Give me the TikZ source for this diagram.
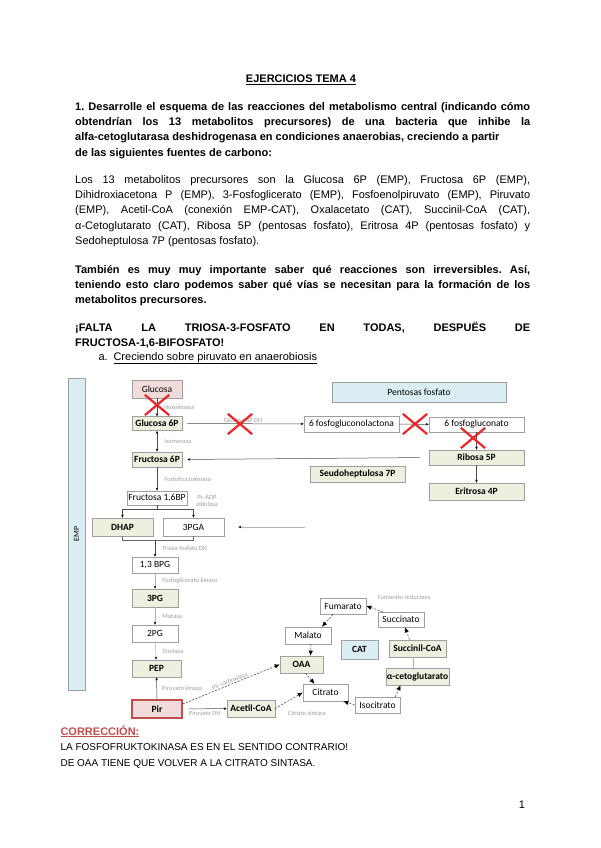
\documentclass[tikz,border=0pt]{standalone}
\usepackage{fontspec}
\setmainfont{Liberation Sans}
\newfontfamily\boxfont{Carlito}
\usetikzlibrary{arrows.meta,shapes.misc,positioning}

\definecolor{boxgreen}{HTML}{EBF1DE}
\definecolor{boxpink}{HTML}{F2DCDB}
\definecolor{boxblue}{HTML}{DBEEF4}
\definecolor{pirred}{HTML}{C0504D}
\definecolor{crossred}{HTML}{E8262B}
\definecolor{corrred}{HTML}{C0504D}

\setlength{\parindent}{0pt}
\hyphenpenalty=10000
\exhyphenpenalty=10000
\tolerance=10000
\frenchspacing

\begin{document}
\begin{tikzpicture}[x=1pt, y=-1pt,
    txt/.style={anchor=north west, inner sep=0pt, text width=455pt, align=justify, font=\fontsize{11}{15.3}\selectfont},
    met/.style={draw=gray!75, line width=0.6pt, inner sep=0pt, font=\boxfont\fontsize{9.5}{10}\selectfont},
    pre/.style={met, fill=boxgreen, font=\boxfont\bfseries\fontsize{9.5}{10}\selectfont},
    src/.style={met, fill=boxpink},
    route/.style={met, fill=boxblue},
    heavy/.style={font=\boxfont\bfseries\fontsize{9.5}{10}\selectfont},
    enz/.style={font=\boxfont\fontsize{6.5}{7}\selectfont, text=gray!75, inner sep=1pt},
    arrow/.style={-{Stealth[length=3pt,width=2.5pt,color=black]}, draw=black!70, line width=0.5pt},
    darrow/.style={{Stealth[length=3pt,width=2.5pt,color=black]}-{Stealth[length=3pt,width=2.5pt,color=black]}, draw=black!70, line width=0.5pt},
    lnk/.style={draw=black!60, line width=0.5pt},
    cyc/.style={-{Latex[length=5pt,width=4.5pt,color=black]}, draw=black!80, dash pattern=on 2pt off 1.5pt, line width=0.5pt},
    nox/.style={cross out, draw=crossred, line width=2.2pt, inner sep=0pt, minimum width=22pt, minimum height=18pt}
]
\fill[white] (0,0) rectangle (600,848);
\useasboundingbox (0,0) rectangle (600,848);

% text of the exercise
\node[font=\bfseries\fontsize{11}{13}\selectfont] (title) at (301,80) {\underline{EJERCICIOS TEMA 4}};
\node[txt, font=\bfseries\fontsize{11}{15.3}\selectfont] (q1) at (75,102) {1. Desarrolle el esquema de las reacciones del metabolismo central (indicando cómo\linebreak
obtendrían los 13 metabolitos precursores) de una bacteria que inhibe la\linebreak
alfa-cetoglutarasa deshidrogenasa en condiciones anaerobias, creciendo a partir\newline
de las siguientes fuentes de carbono:};
\node[txt] (ans) at (75,175) {Los 13 metabolitos precursores son la Glucosa 6P (EMP), Fructosa 6P (EMP),\linebreak
Dihidroxiacetona P (EMP), 3-Fosfoglicerato (EMP), Fosfoenolpiruvato (EMP), Piruvato\linebreak
(EMP), Acetil-CoA (conexión EMP-CAT), Oxalacetato (CAT), Succinil-CoA (CAT),\linebreak
α-Cetoglutarato (CAT), Ribosa 5P (pentosas fosfato), Eritrosa 4P (pentosas fosfato) y\linebreak
Sedoheptulosa 7P (pentosas fosfato).};
\node[txt, font=\bfseries\fontsize{11}{15.3}\selectfont] (note) at (75,265) {También es muy muy importante saber qué reacciones son irreversibles. Así,\linebreak
teniendo esto claro podemos saber qué vías se necesitan para la formación de los\linebreak
metabolitos precursores.};
\node[txt, font=\bfseries\fontsize{11}{15.3}\selectfont] (falta) at (75,322) {¡FALTA LA TRIOSA-3-FOSFATO EN TODAS, DESPUËS DE\linebreak
FRUCTOSA-1,6-BIFOSFATO!};
\node[anchor=base west, font=\fontsize{11}{13}\selectfont] (itema) at (95,360) {a.};
\node[anchor=base west, font=\fontsize{11}{13}\selectfont] (itemtxt) at (110,360) {\underline{Creciendo sobre piruvato en anaerobiosis}};

% blocks
\node[route, rotate=90, minimum width=312pt, minimum height=17pt, font=\boxfont\fontsize{8}{9}\selectfont] (emp) at (76.5,534) {EMP};
\node[route, minimum width=174pt, minimum height=20pt] (pp) at (419,392) {Pentosas fosfato};
\node[route, heavy, minimum width=37pt, minimum height=19pt] (cat) at (359.5,649.5) {CAT};

% EMP
\node[src, minimum width=50pt, minimum height=18pt] (glc) at (157,389) {Glucosa};
\node[pre, minimum width=50pt, minimum height=14pt] (g6p) at (157,423.5) {Glucosa 6P};
\node[pre, minimum width=50pt, minimum height=15pt] (f6p) at (157,459.5) {Fructosa 6P};
\node[met, minimum width=60pt, minimum height=14pt] (fbp) at (157,498) {Fructosa 1,6BP};
\node[pre, minimum width=61pt, minimum height=18pt] (dhap) at (122.5,527) {DHAP};
\node[met, minimum width=61pt, minimum height=18pt] (pga) at (193.5,527) {3PGA};
\node[met, minimum width=46pt, minimum height=16pt] (bpg) at (155,565) {1,3 BPG};
\node[pre, minimum width=46pt, minimum height=18pt] (pg3) at (155,598) {3PG};
\node[met, minimum width=46pt, minimum height=17pt] (pg2) at (155,633.5) {2PG};
\node[pre, minimum width=49pt, minimum height=17pt] (pep) at (156.5,668.5) {PEP};
\node[src, heavy, draw=pirred, line width=1.3pt, minimum width=50pt, minimum height=18pt] (pir) at (157,709) {Pir};
\node[pre, minimum width=48pt, minimum height=17pt] (acoa) at (251,708.5) {Acetil-CoA};

% pentosas fosfato
\node[met, minimum width=95pt, minimum height=16pt] (pgl) at (351.5,424) {6 fosfogluconolactona};
\node[met, minimum width=95pt, minimum height=15pt] (pgn) at (476.5,424.5) {6 fosfogluconato};
\node[pre, minimum width=95pt, minimum height=15pt] (r5p) at (476.5,457.5) {Ribosa 5P};
\node[pre, minimum width=95pt, minimum height=17pt] (e4p) at (476.5,491.5) {Eritrosa 4P};
\node[pre, minimum width=95pt, minimum height=16pt] (s7p) at (357.5,474) {Seudoheptulosa 7P};

% CAT
\node[pre, minimum width=43pt, minimum height=17pt] (oaa) at (301.5,664.5) {OAA};
\node[met, minimum width=46pt, minimum height=17pt] (mal) at (308,635.5) {Malato};
\node[met, minimum width=46pt, minimum height=16pt] (fum) at (343,606) {Fumarato};
\node[met, minimum width=46pt, minimum height=15pt] (suc) at (401,619.5) {Succinato};
\node[pre, minimum width=57pt, minimum height=17pt] (sca) at (417.5,648.5) {Succinil-CoA};
\node[pre, minimum width=63pt, minimum height=17pt] (akg) at (417.5,676.5) {α-cetoglutarato};
\node[met, minimum width=45pt, minimum height=17pt] (cit) at (325.5,692.5) {Citrato};
\node[met, minimum width=45pt, minimum height=16pt] (icit) at (377.5,705) {Isocitrato};

% glucolisis
\draw[arrow] (glc) -- node[enz, right=6pt] {Hexokinasa} (g6p);
\draw[darrow] (g6p) -- node[enz, right=6pt] {Isomerasa} (f6p);
\draw[arrow] (f6p) -- node[enz, right=6pt] {Fosfofructokinasa} (fbp);
\draw[arrow] (fbp.south) -- ++(0,4) coordinate (fsplit) -| (dhap.north);
\draw[arrow] (fsplit) -| (pga.north);
\node[enz, align=center] (ald) at (207,501) {Pi, ADP\\aldolasa};
\draw[lnk] (dhap.south) -- ++(0,4) coordinate (tjoin) -| (pga.south);
\draw[arrow] (tjoin -| bpg.north) -- node[enz, right=6pt] {Triosa fosfato DH} (bpg.north);
\draw[arrow, draw=gray!60] (bpg) -- node[enz, right=6pt] {Fosfoglicerato kinasa} (pg3);
\draw[arrow, draw=gray!60] (pg3) -- node[enz, right=6pt] {Mutasa} (pg2);
\draw[arrow, draw=gray!60] (pg2) -- node[enz, right=6pt] {Enolasa} (pep);
\draw[arrow] (pir) -- node[enz, right=4pt] {Piruvato kinasa} (pep);
\draw[arrow, shorten <=6pt] (pir) -- node[enz, below=1pt] {Piruvato DH} (acoa);

% pentosas
\draw[arrow, shorten <=5pt] (g6p) -- node[enz, above] {Glucosa 6P DH} (pgl);
\draw[arrow] (pgl) -- (pgn);
\draw[arrow] (pgn) -- (r5p);
\draw[arrow] (r5p) -- (e4p);
\draw[arrow, shorten <=9pt, shorten >=5pt] (r5p.west) -- (f6p.east);
\coordinate (tin) at (305,527);
\draw[arrow, draw=gray!60] (tin) -- ([xshift=14pt]pga.east);

% ciclo
\draw[cyc] ([yshift=5pt]pir.east) -- node[enz, sloped, above] {Pir carboxilasa} (oaa.west);
\draw[cyc] (acoa.east) -- (cit.west);
\node[enz] (cs) at (307,713) {Citrato sintasa};
\draw[cyc] ([xshift=-10pt]fum.south) -- ([xshift=14pt]mal.north);
\draw[cyc] ([xshift=3pt]mal.south) -- ([xshift=9pt]oaa.north);
\draw[cyc] ([xshift=4pt]oaa.south) -- ([xshift=-11pt]cit.north);
\draw[cyc] (icit.west) -- ([xshift=-5pt]cit.south east);
\draw[cyc] ([xshift=-5pt]icit.north east) -- ([xshift=-17pt]akg.south);
\draw[lnk, draw=gray!60] ([xshift=-4pt]akg.north) -- ([xshift=-4pt]sca.south);
\draw[cyc] ([xshift=-8pt]sca.north) -- ([xshift=4pt]suc.south);
\draw[cyc] ([xshift=5pt]suc.north west) -- (fum.east);
\node[enz] (frd) at (404,597) {Fumarato reductasa};

% reacciones bloqueadas
\node[nox] (x1) at (157,405) {};
\node[nox] (x2) at (240,424) {};
\node[nox] (x3) at (415,424) {};
\node[nox] (x4) at (473,438) {};

% correccion
\node[anchor=base west, font=\bfseries\fontsize{11}{13}\selectfont, text=corrred] (corr) at (57,735) {\underline{CORRECCIÓN:}};
\node[anchor=base west, font=\fontsize{10}{12}\selectfont] (corr1) at (57,750) {LA FOSFOFRUKTOKINASA ES EN EL SENTIDO CONTRARIO!};
\node[anchor=base west, font=\fontsize{10}{12}\selectfont] (corr2) at (57,766) {DE OAA TIENE QUE VOLVER A LA CITRATO SINTASA.};
\node[anchor=base, font=\fontsize{11}{13}\selectfont] (pnum) at (522,808) {1};
\end{tikzpicture}
\end{document}
